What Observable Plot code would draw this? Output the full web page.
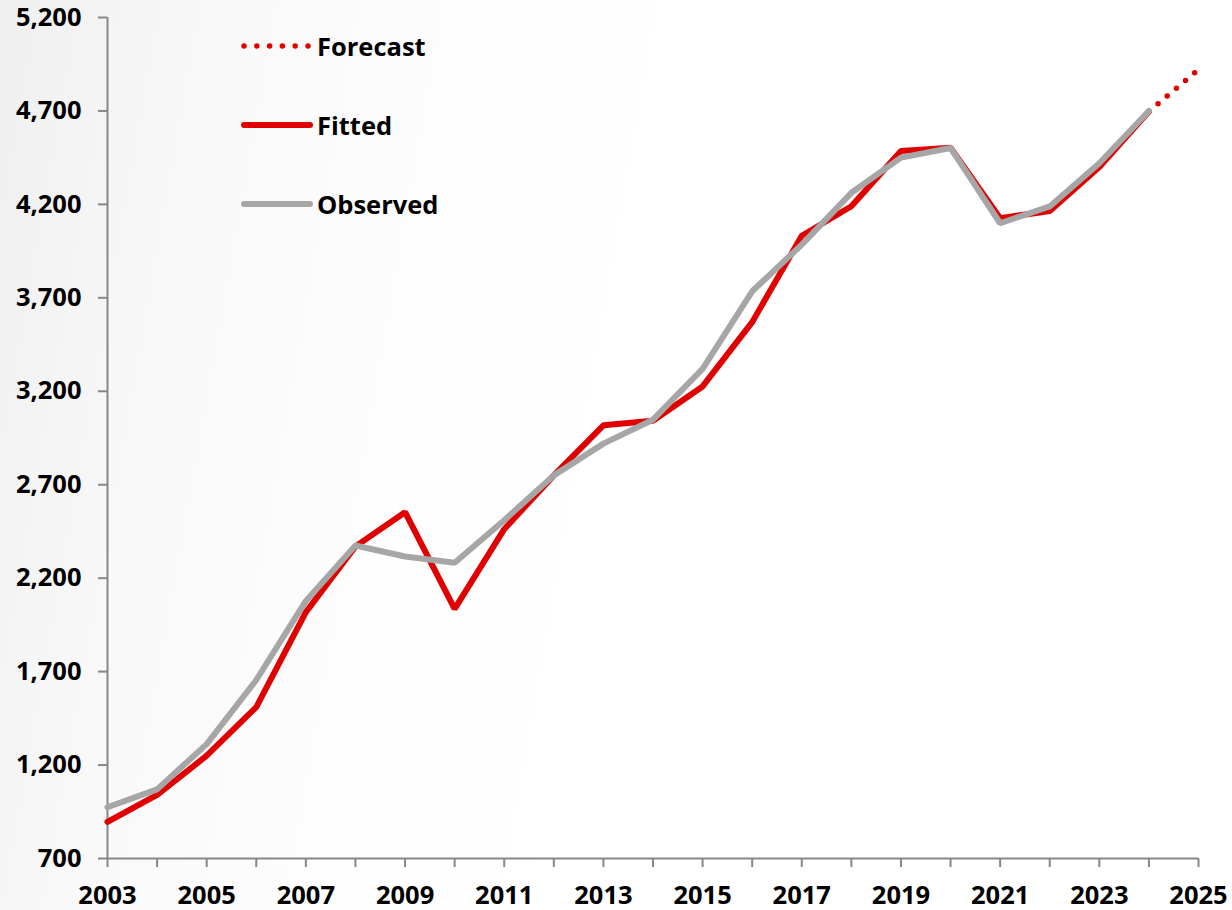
<!DOCTYPE html>
<html>
<head>
<meta charset="utf-8">
<script src="https://cdn.jsdelivr.net/npm/d3@7"></script>
<script src="https://cdn.jsdelivr.net/npm/@observablehq/plot@0.6"></script>
<style>
  html, body { margin: 0; padding: 0; }
  body {
    width: 1232px; height: 910px; overflow: hidden; position: relative;
    background: linear-gradient(100deg, #efefef 0%, #f8f8f8 15%, #fdfdfd 32%, #ffffff 50%);
    font-family: "Open Sans", sans-serif;
  }
  #chart { position: absolute; left: 0; top: 0; }
  .legend { position: absolute; left: 241px; top: 0; }
  .item { position: absolute; left: 0; display: flex; align-items: center; white-space: nowrap; }
  .item span { font-weight: 700; font-size: 25.5px; color: #000; margin-left: 4px; }
</style>
</head>
<body>
<div id="chart"></div>
<div class="legend" id="legend"></div>
<script>
const years = [2003,2004,2005,2006,2007,2008,2009,2010,2011,2012,2013,2014,2015,2016,2017,2018,2019,2020,2021,2022,2023,2024];
const observed = [974,1070,1312,1655,2078,2375,2316,2282,2510,2750,2920,3048,3320,3735,3985,4262,4450,4502,4099,4189,4420,4700];
const fitted = [896,1040,1250,1510,2018,2370,2553,2036,2462,2750,3018,3042,3226,3570,4032,4190,4486,4503,4126,4165,4400,4697];
const forecastYears = [2024, 2025];
const forecast = [4697, 4922];
const yTicks = [700,1200,1700,2200,2700,3200,3700,4200,4700,5200];
const xTicks = d3.range(2003, 2026);
const xLabelYears = [2003,2005,2007,2009,2011,2013,2015,2017,2019,2021,2023,2025];

const RED = "#e10000";
const GRAY = "#a6a6a6";
const AXIS = "#878787";

const obsData = years.map((y, i) => ({year: y, value: observed[i]}));
const fitData = years.map((y, i) => ({year: y, value: fitted[i]}));
const fcData = forecastYears.map((y, i) => ({year: y, value: forecast[i]}));

const plot = Plot.plot({
  width: 1232,
  height: 910,
  marginLeft: 107,
  marginRight: 34,
  marginTop: 17,
  marginBottom: 52,
  style: {background: "transparent", fontFamily: "'Open Sans', sans-serif", fontSize: "25.5px", fontWeight: "700", color: "#000"},
  x: {domain: [2003, 2025], type: "linear"},
  y: {domain: [700, 5200], type: "linear"},
  marks: [
    Plot.axisY({ticks: yTicks, tickFormat: d3.format(","), tickSize: 9, tickPadding: 17, stroke: AXIS, strokeWidth: 2, fill: "#000", label: null}),
    Plot.axisX({ticks: xTicks, tickFormat: d => xLabelYears.includes(d) ? String(d) : "", tickSize: 9, tickPadding: 18, stroke: AXIS, strokeWidth: 2, fill: "#000", label: null}),
    Plot.ruleX([2003], {stroke: AXIS, strokeWidth: 2}),
    Plot.ruleY([700], {stroke: AXIS, strokeWidth: 2}),
    Plot.line(fcData, {x: "year", y: "value", stroke: RED, strokeWidth: 5.5, strokeDasharray: "0 12", strokeLinecap: "round"}),
    Plot.line(fitData, {x: "year", y: "value", stroke: RED, strokeWidth: 6, strokeLinejoin: "miter"}),
    Plot.line(obsData, {x: "year", y: "value", stroke: GRAY, strokeWidth: 6, strokeLinejoin: "miter"})
  ]
});
document.getElementById("chart").appendChild(plot);

// Legend
const legendItems = [
  {label: "Forecast", color: RED, dash: "0 12.8", width: 5.5, top: 46},
  {label: "Fitted", color: RED, dash: null, width: 6, top: 125},
  {label: "Observed", color: GRAY, dash: null, width: 6, top: 204}
];
const legend = document.getElementById("legend");
legendItems.forEach(it => {
  const div = document.createElement("div");
  div.className = "item";
  div.style.top = (it.top - 18) + "px";
  div.style.height = "36px";
  div.innerHTML = `<svg width="72" height="12" style="overflow:visible"><line x1="3" y1="6" x2="69" y2="6" stroke="${it.color}" stroke-width="${it.width}" stroke-linecap="round" ${it.dash ? `stroke-dasharray="${it.dash}"` : ""}/></svg><span>${it.label}</span>`;
  legend.appendChild(div);
});
</script>
</body>
</html>
